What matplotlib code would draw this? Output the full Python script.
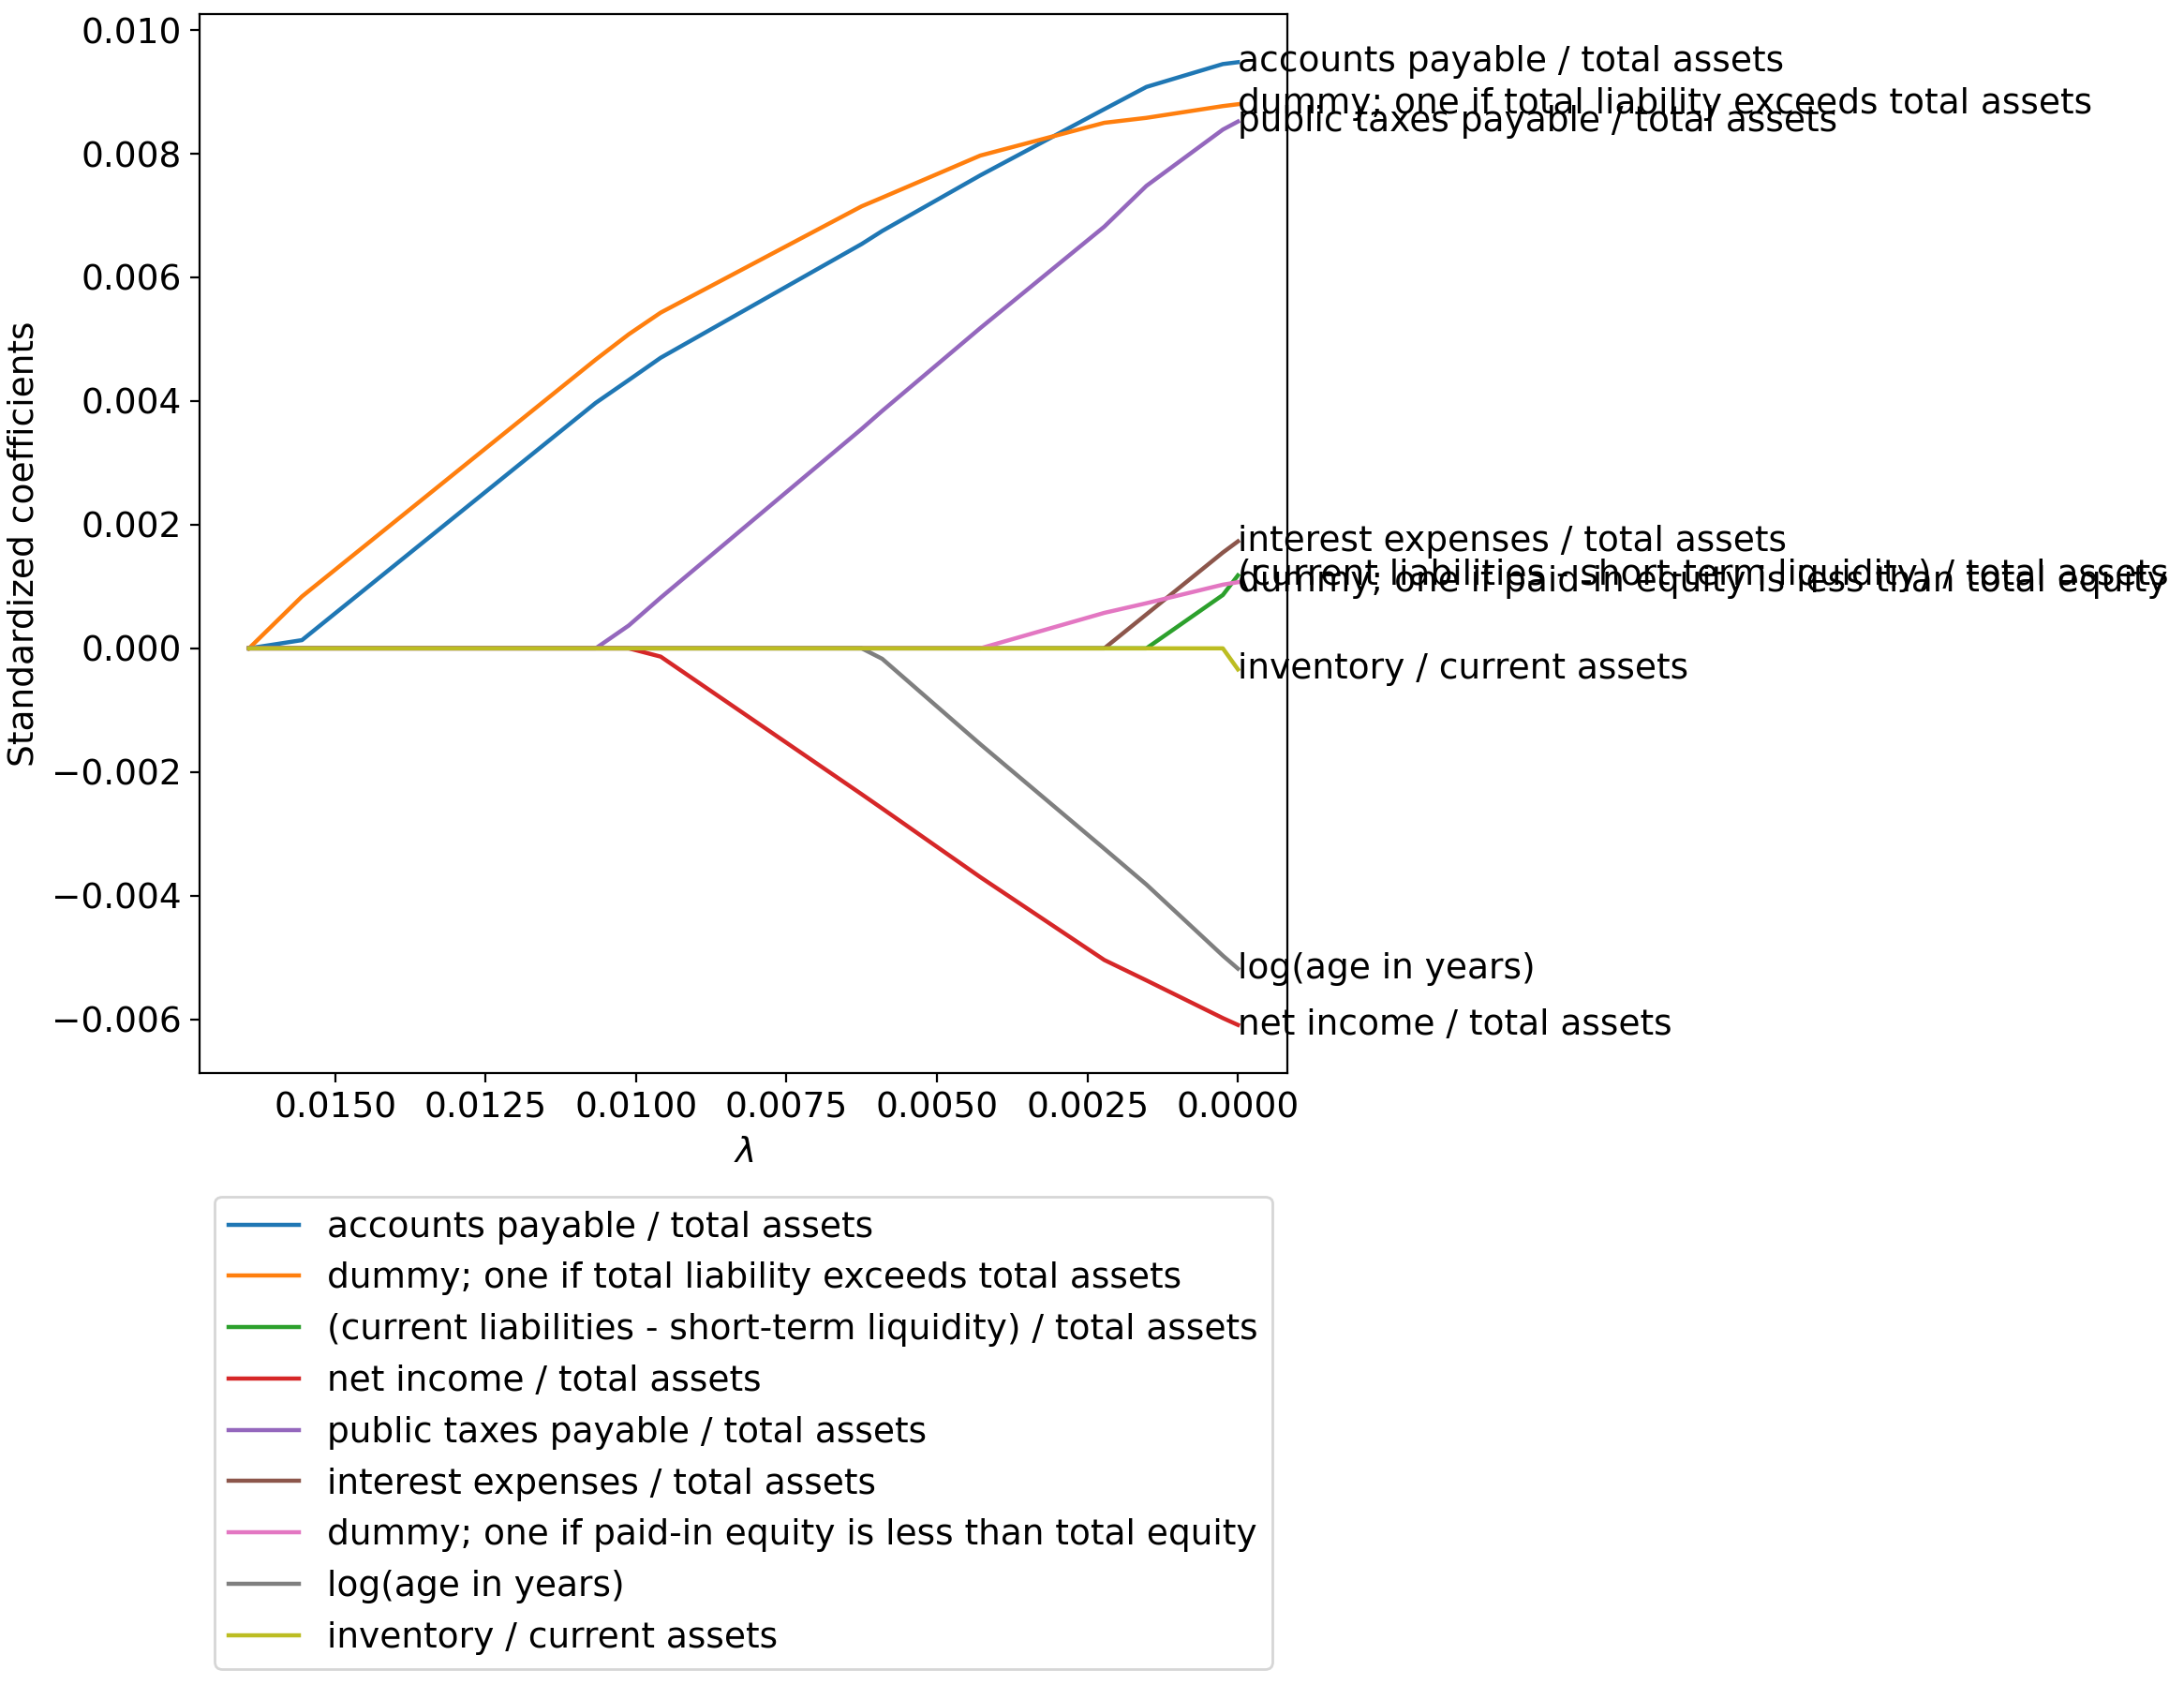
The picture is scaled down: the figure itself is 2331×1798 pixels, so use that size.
import matplotlib
matplotlib.use("Agg")
import matplotlib.pyplot as plt

# Lasso path knots (lambda values)
lambdas = [0.01643, 0.01555, 0.01067, 0.01012, 0.00959, 0.00625,
           0.00591, 0.00428, 0.00222, 0.00152, 0.00025, 0.0]

labels = [
    "accounts payable / total assets",
    "dummy; one if total liability exceeds total assets",
    "(current liabilities - short-term liquidity) / total assets",
    "net income / total assets",
    "public taxes payable / total assets",
    "interest expenses / total assets",
    "dummy; one if paid-in equity is less than total equity",
    "log(age in years)",
    "inventory / current assets",
]

accounts_payable = [0, 0.000133, 0.00397, 0.00434, 0.00470, 0.00654,
                    0.00675, 0.00765, 0.00872, 0.00908, 0.00945, 0.00948]
dummy_liability = [0, 0.000839, 0.00467, 0.00508, 0.00543, 0.00715,
                   0.00729, 0.00797, 0.00850, 0.00858, 0.00877, 0.00880]
current_liabilities = [0, 0, 0, 0, 0, 0, 0, 0, 0, 0, 0.000863, 0.00118]
net_income = [0, 0, 0, 0, -0.000134, -0.00236, -0.00259, -0.00370,
              -0.00504, -0.00537, -0.00598, -0.00609]
public_taxes = [0, 0, 0, 0.00037, 0.00082, 0.00355, 0.00384, 0.00518,
                0.00682, 0.00748, 0.00839, 0.00852]
interest_expenses = [0, 0, 0, 0, 0, 0, 0, 0, 0, 0.00055, 0.00155, 0.00173]
dummy_equity = [0, 0, 0, 0, 0, 0, 0, 0, 0.000574, 0.00073, 0.00103, 0.00107]
log_age = [0, 0, 0, 0, 0, 0, -0.000169, -0.00155, -0.00324, -0.00382,
           -0.00497, -0.00518]
inventory = [0, 0, 0, 0, 0, 0, 0, 0, 0, 0, 0, -0.00034]

series = [accounts_payable, dummy_liability, current_liabilities, net_income,
          public_taxes, interest_expenses, dummy_equity, log_age, inventory]

plt.rcParams['font.size'] = 13.5

DPI = 200
fig = plt.figure(figsize=(2331 / DPI, 1798 / DPI), dpi=DPI)
ax = fig.add_axes([213 / 2331, 1 - 1145 / 1798, 1161 / 2331, 1130 / 1798])

for vals, lab in zip(series, labels):
    ax.plot(lambdas, vals, label=lab, linewidth=1.6)
    ax.text(lambdas[-1], vals[-1], lab, ha='left', va='center', clip_on=False)

ax.invert_xaxis()
ax.set_xlabel(r'$\lambda$')
ax.set_ylabel('Standardized coefficients')
ax.legend(loc='upper center', bbox_to_anchor=(0.5, -0.1))

fig.savefig('out.png', dpi=DPI)
